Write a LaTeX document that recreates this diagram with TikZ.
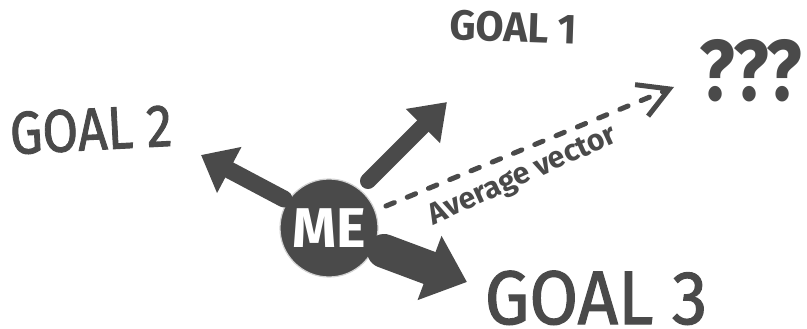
\documentclass[tikz,border=0pt]{standalone}
\usepackage{fontspec}
\usepackage{graphicx}
\setmainfont{Fira Sans}
\newfontfamily\handfont{Fira Sans}[FakeBold=1.6]
\usetikzlibrary{arrows.meta}
\definecolor{ink}{HTML}{4A4A4A}
\tikzset{
  goal/.style={text=ink, inner sep=0pt, text depth=0pt},
  block/.style={draw=ink, line cap=round},
  avg/.style={draw=ink, line width=5pt, line cap=round, dash pattern=on 9pt off 14pt}
}
\begin{document}
\begin{tikzpicture}[x=1pt,y=-1pt]
\useasboundingbox (0,0) rectangle (807,329);
% nodes
\node[circle, fill=ink, draw=gray!35, line width=1.2pt, minimum size=98pt, inner sep=0pt,
      text=white, font=\fontsize{56}{56}\selectfont\bfseries] (me) at (329,228) {ME};
\node[goal, anchor=base, font=\fontsize{42}{42}\selectfont\bfseries, rotate=-2] (g1) at (513,42) {\scalebox{0.97}[1]{GOAL 1}};
\node[goal, anchor=base, font=\fontsize{60}{60}\handfont, rotate=3] (g2) at (92,150) {\scalebox{0.86}[1]{GOAL 2}};
\node[goal, anchor=base, font=\fontsize{76}{76}\handfont] (g3) at (596,324) {\scalebox{0.93}[1]{GOAL 3}};
\node[goal, anchor=base, font=\fontsize{86}{86}\selectfont\bfseries] (q) at (751,101) {\scalebox{0.86}[1]{???}};
% arrow coordinates
\coordinate (t1) at (368,181);
\coordinate (h1) at (447,102);
\coordinate (t2) at (284,199);
\coordinate (h2) at (201,155);
\coordinate (t3) at (384,251);
\coordinate (h3) at (467,282);
\coordinate (ta) at (386,206);
\coordinate (ha) at (674,87);
% block arrows
\draw[block, line width=16pt, -{Triangle[length=34pt,width=46pt]}] (t1) -- (h1);
\draw[block, line width=17pt, -{Triangle[length=32pt,width=50pt]}] (t2) -- (h2);
\draw[block, line width=34pt, -{Triangle[length=40pt,width=66pt]}] (t3) -- (h3);
% average vector
\draw[avg, -{Straight Barb[length=30pt,width=34pt,line width=5pt]}] (ta) -- (ha)
  node[pos=0.44, sloped, below=9pt, inner sep=0pt, text=ink, font=\fontsize{30}{30}\selectfont\bfseries, rotate=2] (lab) {Average vector};
\end{tikzpicture}
\end{document}
